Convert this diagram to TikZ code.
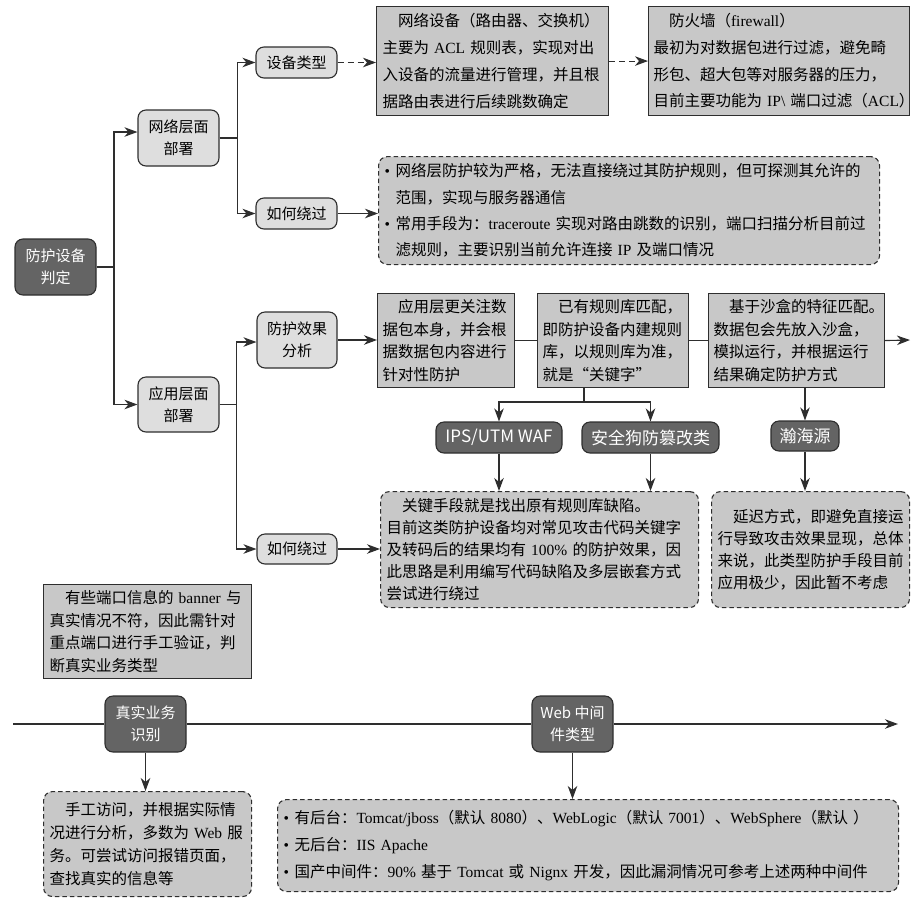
\documentclass[tikz,border=0pt]{standalone}
\usepackage{fontspec}
\setmainfont{Noto Sans CJK SC}
\newfontfamily\lat{Liberation Serif}
\usetikzlibrary{arrows.meta}
\definecolor{linec}{HTML}{2E2E2E}
\definecolor{boxfill}{HTML}{C8C8C8}
\definecolor{lightfill}{HTML}{DEDEDE}
\definecolor{darkfill}{HTML}{646464}
\newcommand\bul{\makebox[11pt][l]{\lat •}}
\newcommand\ind{\hspace*{15.5pt}}
\newcommand\bulind{\hspace*{11pt}}
\begin{document}
\begin{tikzpicture}[x=1pt,y=-1pt,
  conn/.style={draw=linec, line width=1.1pt},
  arr/.style={conn, -{Stealth[length=13pt,width=9.5pt,inset=4pt]}},
  darr/.style={arr, dash pattern=on 6pt off 4pt},
  fs/.style={font=\fontsize{15.5}{#1}\selectfont},
  box/.style={draw=linec, fill=boxfill, line width=1.1pt, anchor=north west,
    inner xsep=6pt, inner ysep=0pt, align=left, text=black},
  dbox/.style={box, rounded corners=9pt, dash pattern=on 4.5pt off 3pt},
  lnode/.style={draw=linec, fill=lightfill, line width=1.1pt, rounded corners=8pt,
    align=center, inner sep=0pt, minimum width=81pt, text=black,
    font=\fontsize{15}{22}\selectfont},
  dnode/.style={lnode, fill=darkfill, text=white},
  bignode/.style={dnode, font=\fontsize{17}{20}\selectfont}
]
\useasboundingbox (0,0) rectangle (919,898);

% ---------- left tree nodes ----------
\node[dnode, minimum height=56pt] (root) at (55.5,267) {防护设备\\判定};
\node[lnode, minimum height=56pt] (nw) at (178.5,138) {网络层面\\部署};
\node[lnode, minimum height=55pt] (aw) at (178.5,404.5) {应用层面\\部署};
\node[lnode, minimum height=31pt] (sb) at (296.5,62.5) {设备类型};
\node[lnode, minimum height=31pt] (rg1) at (296.5,213.5) {如何绕过};
\node[lnode, minimum height=56pt, minimum width=80pt] (pe) at (297,340) {防护效果\\分析};
\node[lnode, minimum height=30pt, minimum width=80pt] (rg2) at (297,549) {如何绕过};

% ---------- network layer boxes ----------
\node[box, fs=26.7, text width=220pt, minimum height=109pt] (b1) at (376,6)
  {\ind 网络设备（路由器、交换机）\\主要为~{\lat ACL}~规则表，实现对出\\入设备的流量进行管理，并且根\\据路由表进行后续跳数确定};
\node[box, fs=26.7, inner xsep=5pt, text width=251pt, minimum height=109pt] (fw) at (648,6)
  {\ind 防火墙（{\lat firewall}）\\最初为对数据包进行过滤，避免畸\\形包、超大包等对服务器的压力，\\目前主要功能为~{\lat IP\textbackslash}~端口过滤（{\lat ACL}）};
\node[dbox, fs=26.3, text width=489pt, minimum height=108pt] (bb) at (378,156)
  {\bul 网络层防护较为严格，无法直接绕过其防护规则，但可探测其允许的\\\bulind 范围，实现与服务器通信\\\bul 常用手段为：{\lat traceroute}~实现对路由跳数的识别，端口扫描分析目前过\\\bulind 滤规则，主要识别当前允许连接~{\lat IP}~及端口情况};

% ---------- application layer boxes ----------
\node[box, fs=22.5, inner xsep=5pt, text width=127pt, minimum height=94pt] (ba) at (377,293)
  {\ind 应用层更关注数\\据包本身，并会根\\据数据包内容进行\\针对性防护};
\node[box, fs=22.5, inner xsep=5pt, text width=141pt, minimum height=94pt] (bbk) at (537,293)
  {\ind 已有规则库匹配，\\即防护设备内建规则\\库，以规则库为准，\\就是“关键字”};
\node[box, fs=22.5, inner xsep=5pt, text width=166pt, minimum height=94pt] (bc) at (708,293)
  {\ind 基于沙盒的特征匹配。\\数据包会先放入沙盒，\\模拟运行，并根据运行\\结果确定防护方式};

\node[bignode, minimum width=126pt, minimum height=31pt] (ips) at (499,437.5) {IPS/UTM WAF};
\node[bignode, minimum width=137pt, minimum height=31pt] (sg) at (650.5,437.5) {安全狗防篡改类};
\node[bignode, minimum width=68pt, minimum height=30pt] (hhy) at (805,436) {瀚海源};

\node[dbox, fs=22, text width=306pt, minimum height=116pt] (gj) at (380,491)
  {\ind 关键手段就是找出原有规则库缺陷。\\目前这类防护设备均对常见攻击代码关键字\\及转码后的结果均有~{\lat 100\%}~的防护效果，因\\此思路是利用编写代码缺陷及多层嵌套方式\\尝试进行绕过};
\node[dbox, fs=22, text width=186pt, minimum height=116pt] (yc) at (711,491)
  {\ind 延迟方式，即避免直接运\\行导致攻击效果显现，总体\\来说，此类型防护手段目前\\应用极少，因此暂不考虑};

% ---------- bottom part ----------
\node[box, fs=22.7, text width=196pt, minimum height=94pt] (bn) at (43,584)
  {\ind 有些端口信息的~{\lat banner}~与\\真实情况不符，因此需针对\\重点端口进行手工验证，判\\断真实业务类型};
\node[dnode, minimum height=56pt] (real) at (145.5,724) {真实业务\\识别};
\node[dnode, minimum height=56pt] (web) at (572.5,724) {Web 中间\\件类型};
\node[dbox, fs=22.7, text width=196pt, minimum height=105pt] (hand) at (43,791)
  {\ind 手工访问，并根据实际情\\况进行分析，多数为~{\lat Web}~服\\务。可尝试访问报错页面，\\查找真实的信息等};
\node[dbox, fs=27, text width=609pt, minimum height=92pt] (bot) at (277,799)
  {\bul 有后台：{\lat Tomcat/jboss}（默认~{\lat 8080}）、{\lat WebLogic}（默认~{\lat 7001}）、{\lat WebSphere}（默认~）\\\bul 无后台：{\lat IIS~Apache}\\\bul 国产中间件：{\lat 90\%}~基于~{\lat Tomcat}~或~{\lat Nignx}~开发，因此漏洞情况可参考上述两种中间件};

\coordinate (t1) at (114,267);
\coordinate (cend) at (910,340);
\coordinate (bj) at (584,402);
\coordinate (tl0) at (13,724);
\coordinate (tl1) at (898,724);

% ---------- connectors ----------
\draw[conn] (root.east) -- (t1);
\draw[arr] (t1) |- ([yshift=6pt]nw.west);
\draw[arr] (t1) |- (aw.west);
\draw[arr] (nw.east) -- ++(18,0) |- (sb.west);
\draw[arr] (nw.east) -- ++(18,0) |- (rg1.west);
\draw[arr] (aw.east) -- ++(17,0) |- ([yshift=-2pt]pe.west);
\draw[arr] (aw.east) -- ++(17,0) |- (rg2.west);
\draw[darr] (sb.east) -- (b1.west |- sb.east);
\draw[darr] (b1.east) -- (fw.west |- b1.east);
\draw[arr] (rg1.east) -- (bb.west |- rg1.east);
\draw[arr] (pe.east) -- (ba.west |- pe.east);
\draw[conn] (ba.east) -- (bbk.west |- ba.east);
\draw[conn] (bbk.east) -- (bc.west |- bbk.east);
\draw[arr] (bc.east) -- (cend);
\draw[conn] (bj |- bbk.south) -- (bj);
\draw[arr] (bj) -| (ips.north);
\draw[arr] (bj) -| (sg.north);
\draw[arr] (hhy.north |- bc.south) -- (hhy.north);
\draw[arr] (ips.south) -- (ips.south |- gj.north);
\draw[arr] (sg.south) -- (sg.south |- gj.north);
\draw[arr] (hhy.south) -- (hhy.south |- yc.north);
\draw[arr] (rg2.east) -- (gj.west |- rg2.east);
\draw[conn] (tl0) -- (real.west);
\draw[conn] (real.east) -- (web.west);
\draw[arr] (web.east) -- (tl1);
\draw[arr] (real.south) -- (real.south |- hand.north);
\draw[arr] (web.south) -- (web.south |- bot.north);
\end{tikzpicture}
\end{document}
